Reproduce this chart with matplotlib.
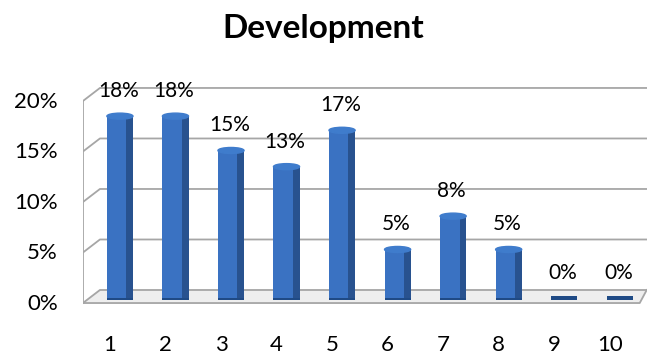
import numpy as np
import matplotlib.pyplot as plt
from matplotlib.patches import Ellipse
from matplotlib.transforms import ScaledTranslation

# chart data
categories = [1, 2, 3, 4, 5, 6, 7, 8, 9, 10]
shares = [0.18, 0.18, 0.146, 0.13, 0.166, 0.048, 0.081, 0.048, 0.0, 0.0]
y_ticks = [0, 0.05, 0.10, 0.15, 0.20]
y_labels = ['0%', '5%', '10%', '15%', '20%']
title = 'Development'

plt.rcParams['font.family'] = ['Lato', 'DejaVu Sans']

fig = plt.figure(figsize=(6.48, 3.6), dpi=100)
ax = fig.add_axes([0.128, 0.1389, 0.870, 0.6389])

x = np.array(categories)
x0, x1 = 0.334, 10.486
ax.set_xlim(x0, x1)
ax.set_ylim(-0.0119, 0.2158)

# fake 3d walls: back wall sits a bit higher, front edge a bit lower
back = 0.0079
front = -0.005
xb = x0 + 0.306
grid_col = '#a6a6a6'

ax.fill([x0, xb, x1, x1 - 0.126], [front, back, back, front], color='#eeeeee', zorder=1)
for v in y_ticks:
    ax.plot([x0, xb, x1], [v + front, v + back, v + back], color=grid_col, lw=1.3, zorder=2)
ax.plot([x0, x0], [front, y_ticks[-1] + front], color=grid_col, lw=1.3, zorder=2)
ax.plot([x0, x1 - 0.126, x1], [front, front, back], color=grid_col, lw=1.3, zorder=2)

# bars
w = 0.47
ax.bar(x, 0.004, bottom=-0.002, width=w, color='#1f4a85', zorder=3)
ax.bar(x, shares, width=w, color='#3a72c2', zorder=4)
ax.bar(x + w / 2 - 0.12, shares, width=0.12, align='edge', color='#28528f', zorder=5)
# rounded caps on top of the non-zero bars
for xi, v in zip(x, shares):
    if v > 0:
        ax.add_patch(Ellipse((xi, v), w, 0.006, color='#3f7ccc', zorder=6))

for xi, v in zip(x, shares):
    ax.annotate(f'{v:.0%}', (xi, v), xytext=(-1, 18), textcoords='offset points',
                ha='center', va='center', fontsize=15)

ax.set_yticks(y_ticks, y_labels)
ax.set_xticks(x, [str(c) for c in categories])
ax.tick_params(length=0, labelsize=16)
ax.tick_params(axis='y', pad=18)
ax.tick_params(axis='x', pad=18)
for lab in ax.get_yticklabels():
    lab.set_transform(lab.get_transform() + ScaledTranslation(0, -0.04, fig.dpi_scale_trans))
for lab in ax.get_xticklabels():
    lab.set_transform(lab.get_transform() + ScaledTranslation(-0.10, 0, fig.dpi_scale_trans))
for s in ax.spines.values():
    s.set_visible(False)

fig.text(0.499, 0.922, title, fontsize=24, fontweight='bold', ha='center', va='center')

fig.savefig('out.png', dpi=100)
